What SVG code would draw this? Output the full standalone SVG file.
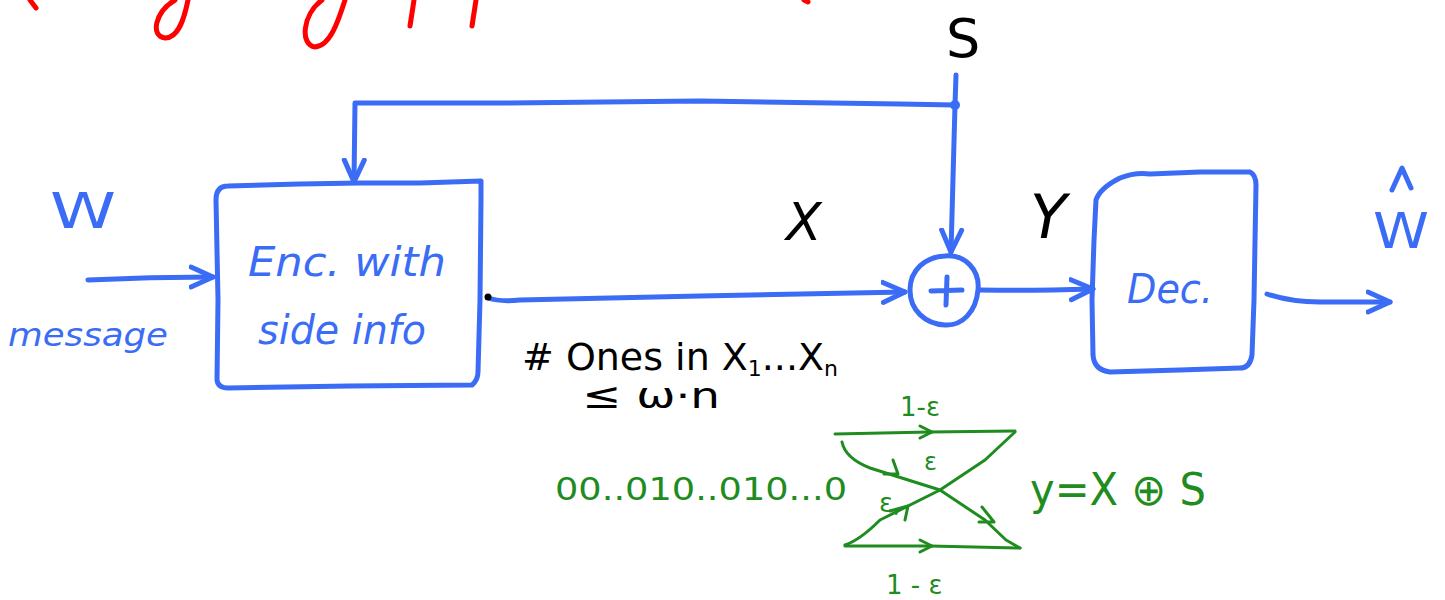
<svg xmlns="http://www.w3.org/2000/svg" width="1445" height="600" viewBox="0 0 1445 600">
<defs>
<style>
.b{fill:none;stroke:#3b6cf6;stroke-width:5;stroke-linecap:round;stroke-linejoin:round}
.g{fill:none;stroke:#1f8c1f;stroke-width:3;stroke-linecap:round;stroke-linejoin:round}
.r{fill:none;stroke:#ff0000;stroke-width:5;stroke-linecap:round;stroke-linejoin:round}
.tb{font-family:"DejaVu Sans","Liberation Sans",sans-serif;fill:#3b6cf6}
.tk{font-family:"DejaVu Sans","Liberation Sans",sans-serif;fill:#000}
.tg{font-family:"DejaVu Sans","Liberation Sans",sans-serif;fill:#1f8c1f}
</style>
<marker id="ah" markerUnits="userSpaceOnUse" markerWidth="30" markerHeight="30" refX="24" refY="12" orient="auto" viewBox="0 0 30 24">
<path d="M2,2 L24,12 L2,22" fill="none" stroke="#3b6cf6" stroke-width="5" stroke-linecap="round" stroke-linejoin="round"/>
</marker>
</defs>
<rect width="1445" height="600" fill="#fff"/>
<g id="title-fragments">
<path class="r" d="M30,0 L36,8"/>
<path class="r" d="M188,0 C184,20 178,38 165,38 C150,36 155,12 175,0"/>
<path class="r" d="M345,0 C338,22 330,46 315,47 C300,45 302,15 322,0"/>
<path class="r" d="M414,0 L410,26"/>
<path class="r" d="M476,0 L472,26"/>
<path class="r" d="M804,0 L808,2"/>
</g>
<g id="connectors">
<path class="b" d="M88,280 Q150,277 213,277" marker-end="url(#ah)"/>
<path class="b" d="M955,105 L900,104 L700,101 L500,103 L355,103 L354,182" marker-end="url(#ah)"/>
<path class="b" d="M956,75 L955,105 L951,252" marker-end="url(#ah)"/>
<circle cx="955" cy="105" r="5" fill="#3b6cf6"/>
<path class="b" d="M488,298 Q500,302 520,300 L700,296 L905,292" marker-end="url(#ah)"/>
<circle cx="488" cy="297" r="3.5" fill="#000"/>
<path class="b" d="M980,290 Q1030,291 1093,289" marker-end="url(#ah)"/>
<path class="b" d="M1267,294 Q1290,302 1320,302 L1390,302" marker-end="url(#ah)"/>
</g>
<g id="message-input">
<text class="tb" x="50" y="228" font-size="50" textLength="66" lengthAdjust="spacingAndGlyphs">W</text>
<text class="tb" x="8" y="346" font-size="32" font-style="italic" textLength="160" lengthAdjust="spacingAndGlyphs">message</text>
</g>
<g id="encoder">
<path class="b" d="M228,186 Q216,186 216,200 L218,300 L217,380 Q218,388 228,388 L350,386 L472,385 Q478,380 478,372 L480,300 L481,200 L481,181 L420,183 L360,183 L300,184 Z"/>
<text class="tb" x="248" y="276" font-size="40" font-style="italic" textLength="198" lengthAdjust="spacingAndGlyphs">Enc. with</text>
<text class="tb" x="258" y="344" font-size="40" font-style="italic" textLength="168" lengthAdjust="spacingAndGlyphs">side info</text>
</g>
<g id="side-info">
<text class="tk" x="946" y="57" font-size="54">S</text>
</g>
<g id="xor">
<path class="b" d="M945,256 C965,254 980,270 978,290 C976,312 962,326 945,325 C925,324 910,310 910,290 C910,270 925,257 945,256 Z"/>
<path class="b" d="M931,291 L962,290 M947,277 L946,305"/>
</g>
<g id="labels">
<text class="tk" x="786" y="240" font-size="52" font-style="italic">X</text>
<text class="tk" x="1030" y="238" font-size="60" font-style="italic">Y</text>
</g>
<g id="decoder">
<path class="b" d="M1120,178 Q1135,172 1150,174 L1200,172 L1250,172 Q1256,175 1256,185 L1254,300 L1252,355 Q1250,368 1240,368 L1180,370 L1110,372 Q1094,370 1093,355 L1092,300 L1094,240 L1096,200 Q1100,188 1120,178 Z"/>
<text class="tb" x="1127" y="303" font-size="40" font-style="italic" textLength="86" lengthAdjust="spacingAndGlyphs">Dec.</text>
</g>
<g id="output">
<path class="b" d="M1392,190 L1402,168 L1411,188"/>
<text class="tb" x="1373" y="248" font-size="50" textLength="56" lengthAdjust="spacingAndGlyphs">W</text>
</g>
<g id="constraint">
<text class="tk" x="522" y="370" font-size="38" textLength="316" lengthAdjust="spacingAndGlyphs"># Ones in X<tspan font-size="22" dy="6">1</tspan><tspan dy="-6">...X</tspan><tspan font-size="22" dy="6">n</tspan></text>
<text class="tk" x="582" y="408" font-size="36" textLength="138" lengthAdjust="spacingAndGlyphs">≤ ω·n</text>
</g>
<g id="bsc">
<path class="g" d="M835,434 L930,432 L1015,431"/>
<path class="g" d="M920,426 L932,432 L920,438"/>
<path class="g" d="M845,546 L930,546 L1020,548"/>
<path class="g" d="M920,540 L932,546 L920,552"/>
<path class="g" d="M842,442 Q845,458 870,468 L940,490 L985,520 L1006,540 L1020,548"/>
<path class="g" d="M893,460 L898,474 L884,474"/>
<path class="g" d="M982,507 L994,522 L979,522"/>
<path class="g" d="M845,545 Q860,540 880,520 L940,490 L985,460 L1015,432"/>
<path class="g" d="M890,511 L908,506 L905,520"/>
<text class="tg" x="900" y="416" font-size="26">1-ε</text>
<text class="tg" x="924" y="470" font-size="24">ε</text>
<text class="tg" x="879" y="512" font-size="26">ε,</text>
<text class="tg" x="886" y="594" font-size="26">1 - ε</text>
<text class="tg" x="555" y="500" font-size="32" textLength="292" lengthAdjust="spacingAndGlyphs">00..010..010...0</text>
<text class="tg" x="1030" y="505" font-size="44" textLength="176" lengthAdjust="spacingAndGlyphs">y=X ⊕ S</text>
</g>
</svg>
